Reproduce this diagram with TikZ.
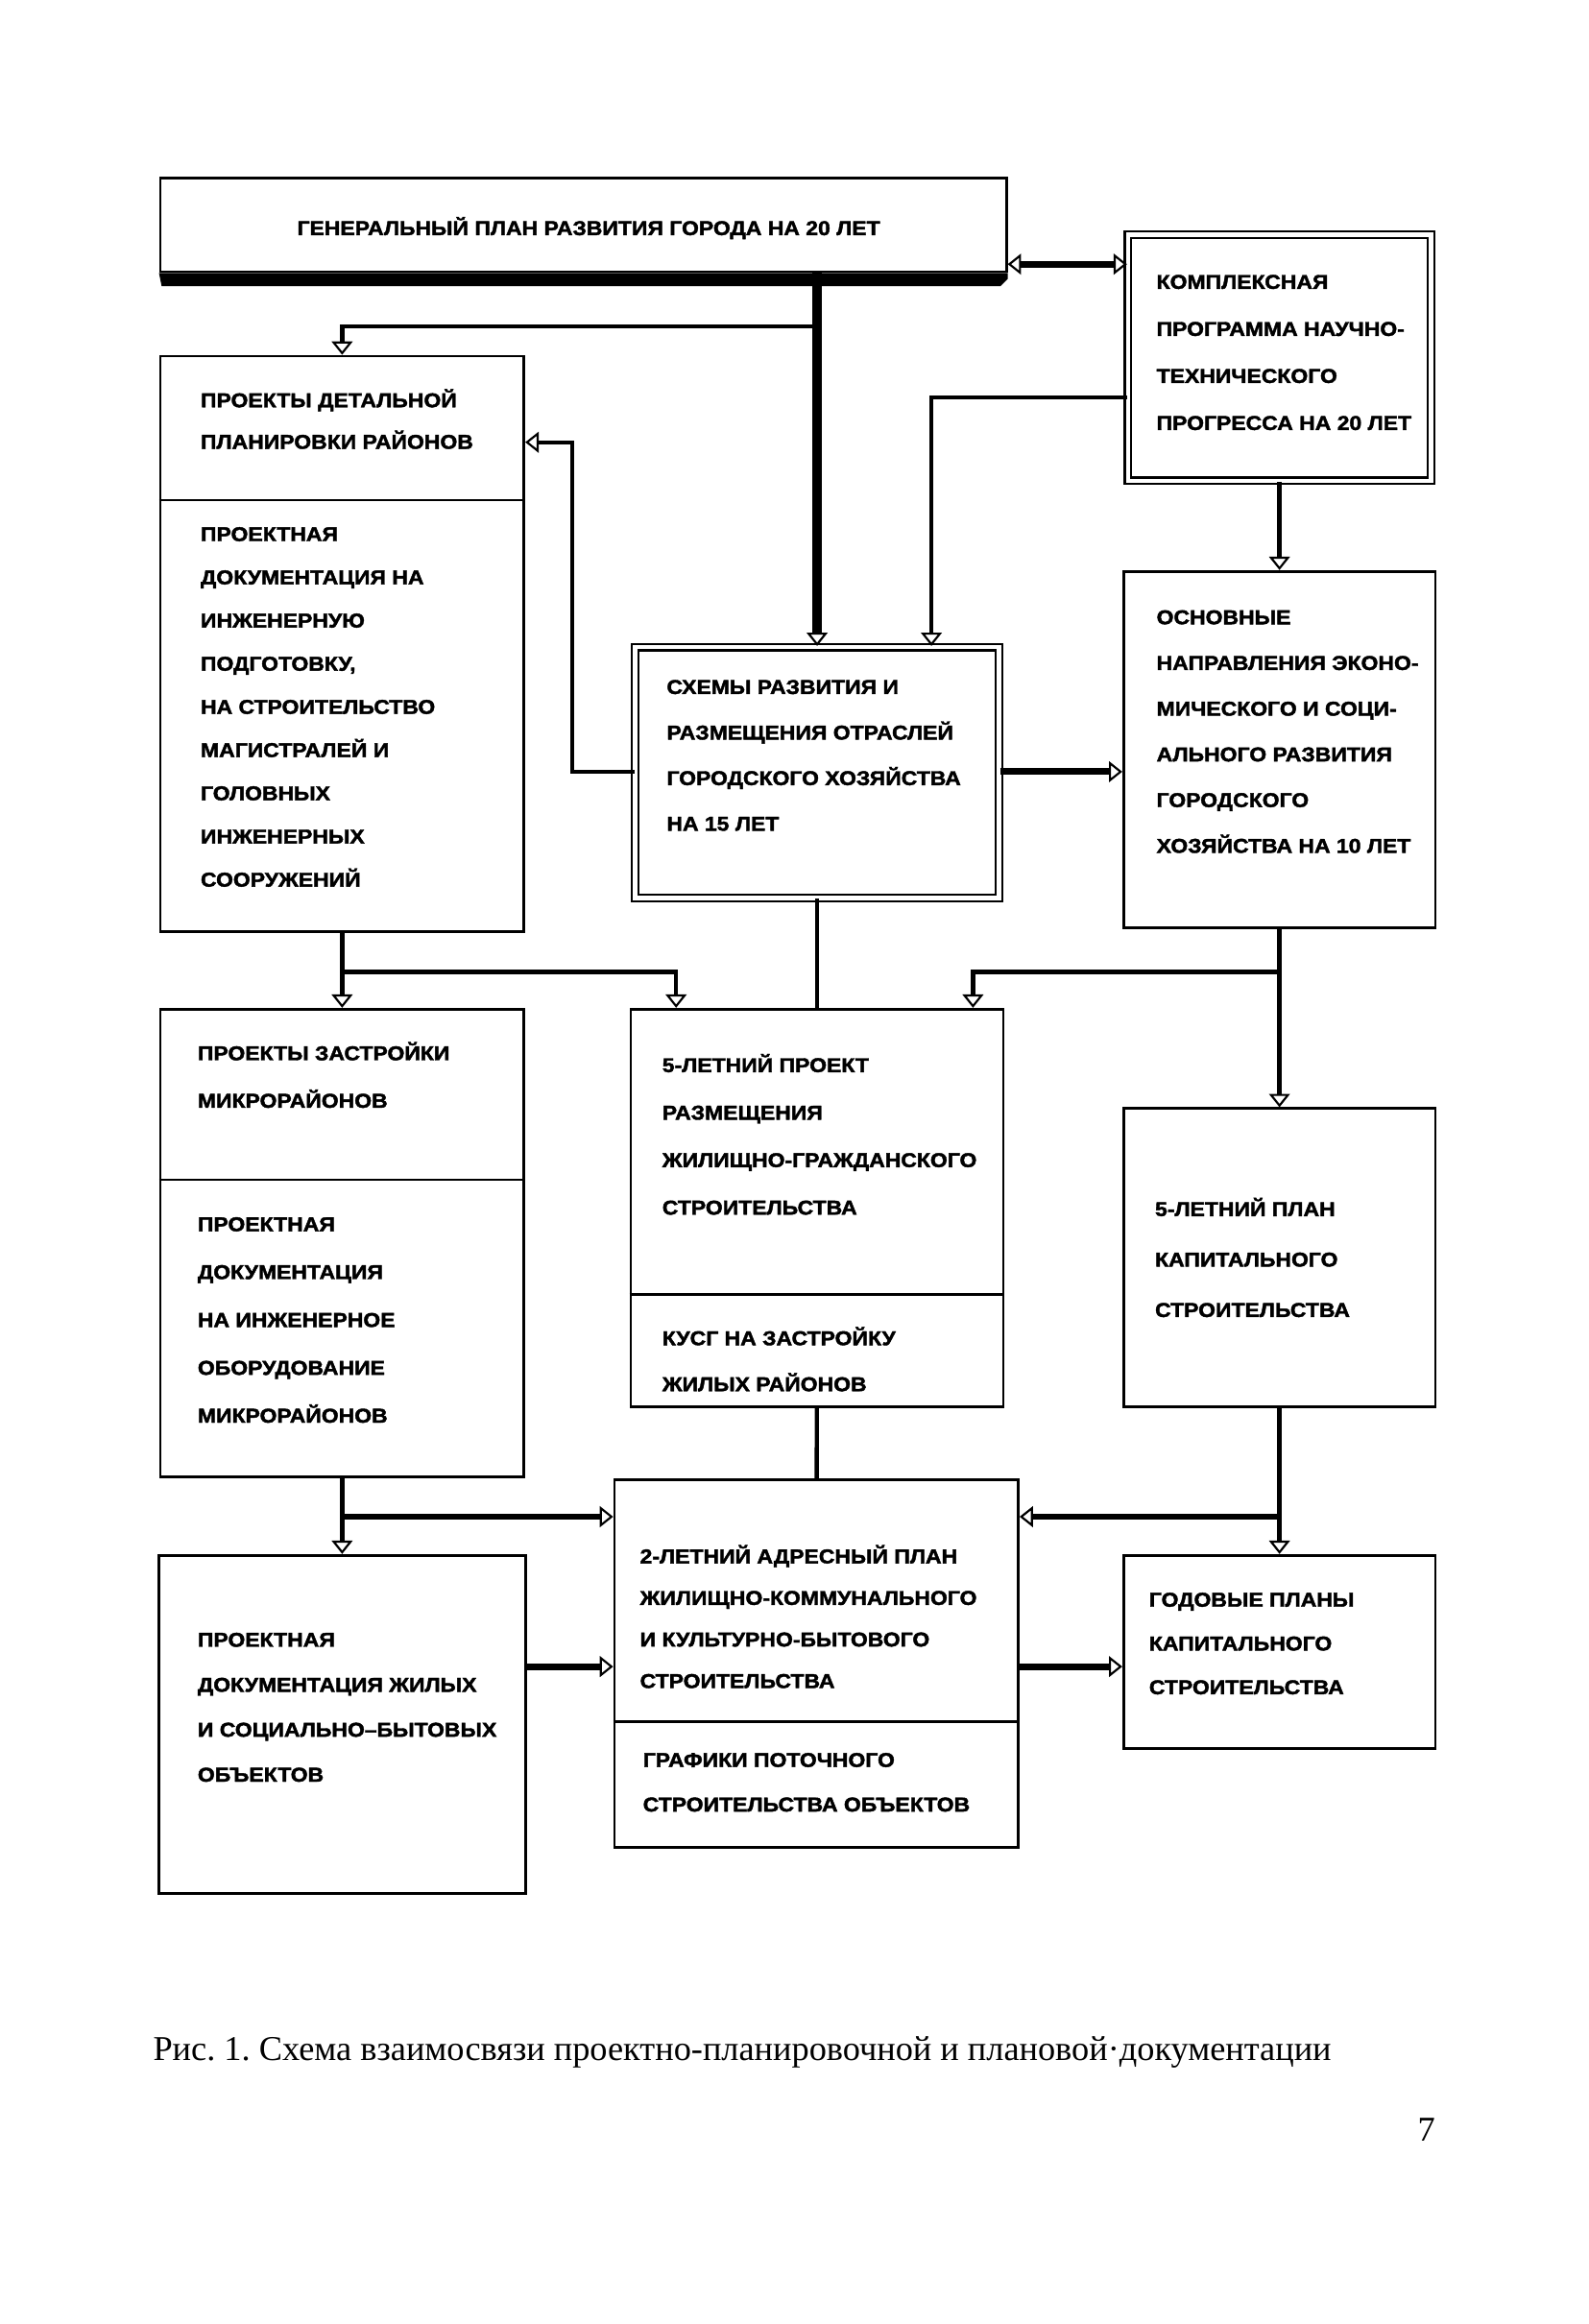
\documentclass[tikz,border=0pt]{standalone}
\usepackage{fontspec}
\setmainfont{Liberation Serif}
\newfontfamily\boxfont{Liberation Sans}[FakeStretch=1.1,FakeBold=2]
\usetikzlibrary{arrows.meta}
\frenchspacing

\begin{document}
\begin{tikzpicture}[x=1pt,y=-1pt,
	>={Triangle[open,width=14pt,length=9pt,line width=1.4pt]},
	box/.style={draw,line width=1.8pt,inner sep=0pt},
	dbox/.style={draw,double,double distance=3pt,line width=1.4pt,inner sep=0pt},
	div/.style={line width=1.8pt},
	txt/.style={font=\boxfont\bfseries\fontsize{13.5}{#1}\selectfont,align=left,anchor=north west,inner sep=0pt},
	txt/.default=30,
	lnk/.style={line width=2.8pt},
	fat/.style={line width=4.5pt},
	main/.style={line width=6pt}]
   \useasboundingbox (0,0) rectangle (1070,1566);
   % boxes
   \node[box,minimum width=570,minimum height=63] (gen) at (393,151.5) {};
   \fill (gen.south west) -- (gen.south east) -- ++(0,4) -- ++(-5,5) -- ++(-565,0) -- cycle;
   \node[dbox,minimum width=204,minimum height=166] (kom) at (862,241) {};
   \node[box,minimum width=245,minimum height=388] (pdp) at (230.5,434) {};
   \node[dbox,minimum width=245,minimum height=169] (sch) at (550.5,520.5) {};
   \node[box,minimum width=210,minimum height=240] (osn) at (862,505) {};
   \node[box,minimum width=245,minimum height=315] (pzm) at (230.5,837.5) {};
   \node[box,minimum width=251,minimum height=268] (p5) at (550.5,814) {};
   \node[box,minimum width=210,minimum height=201] (pk5) at (862,847.5) {};
   \node[box,minimum width=247,minimum height=228] (pdj) at (230.5,1162) {};
   \node[box,minimum width=272,minimum height=248] (a2) at (550,1121) {};
   \node[box,minimum width=210,minimum height=130] (god) at (862,1113) {};
   \draw[div] (pdp.west |- 0,337) -- (pdp.east |- 0,337);
   \draw[div] (pzm.west |- 0,795) -- (pzm.east |- 0,795);
   \draw[div] (p5.west |- 0,872) -- (p5.east |- 0,872);
   \draw[div] (a2.west |- 0,1160) -- (a2.east |- 0,1160);
   % texts
   \node[txt] (genT) at (200,146) {ГЕНЕРАЛЬНЫЙ ПЛАН РАЗВИТИЯ ГОРОДА НА 20 ЛЕТ};
   \node[txt=31.7] (komT) at (779,185) {КОМПЛЕКСНАЯ\\ПРОГРАММА НАУЧНО-\\ТЕХНИЧЕСКОГО\\ПРОГРЕССА НА 20 ЛЕТ};
   \node[txt=28] (pdpA) at (135,262) {ПРОЕКТЫ ДЕТАЛЬНОЙ\\ПЛАНИРОВКИ РАЙОНОВ};
   \node[txt=29.1] (pdpB) at (135,355) {ПРОЕКТНАЯ\\ДОКУМЕНТАЦИЯ НА\\ИНЖЕНЕРНУЮ\\ПОДГОТОВКУ,\\НА СТРОИТЕЛЬСТВО\\МАГИСТРАЛЕЙ И\\ГОЛОВНЫХ\\ИНЖЕНЕРНЫХ\\СООРУЖЕНИЙ};
   \node[txt=30.7] (schT) at (449,458) {СХЕМЫ РАЗВИТИЯ И\\РАЗМЕЩЕНИЯ ОТРАСЛЕЙ\\ГОРОДСКОГО ХОЗЯЙСТВА\\НА 15 ЛЕТ};
   \node[txt=30.8] (osnT) at (779,411) {ОСНОВНЫЕ\\НАПРАВЛЕНИЯ ЭКОНО-\\МИЧЕСКОГО И СОЦИ-\\АЛЬНОГО РАЗВИТИЯ\\ГОРОДСКОГО\\ХОЗЯЙСТВА НА 10 ЛЕТ};
   \node[txt=32] (pzmA) at (133,702) {ПРОЕКТЫ ЗАСТРОЙКИ\\МИКРОРАЙОНОВ};
   \node[txt=32.25] (pzmB) at (133,820) {ПРОЕКТНАЯ\\ДОКУМЕНТАЦИЯ\\НА ИНЖЕНЕРНОЕ\\ОБОРУДОВАНИЕ\\МИКРОРАЙОНОВ};
   \node[txt=32] (p5A) at (446,710) {5-ЛЕТНИЙ ПРОЕКТ\\РАЗМЕЩЕНИЯ\\ЖИЛИЩНО-ГРАЖДАНСКОГО\\СТРОИТЕЛЬСТВА};
   \node[txt=31] (p5B) at (446,894) {КУСГ НА ЗАСТРОЙКУ\\ЖИЛЫХ РАЙОНОВ};
   \node[txt=34] (pk5T) at (778,807) {5-ЛЕТНИЙ ПЛАН\\КАПИТАЛЬНОГО\\СТРОИТЕЛЬСТВА};
   \node[txt=30.3] (pdjT) at (133,1100) {ПРОЕКТНАЯ\\ДОКУМЕНТАЦИЯ ЖИЛЫХ\\И СОЦИАЛЬНО–БЫТОВЫХ\\ОБЪЕКТОВ};
   \node[txt=28] (a2A) at (431,1041) {2-ЛЕТНИЙ АДРЕСНЫЙ ПЛАН\\ЖИЛИЩНО-КОММУНАЛЬНОГО\\И КУЛЬТУРНО-БЫТОВОГО\\СТРОИТЕЛЬСТВА};
   \node[txt=30] (a2B) at (433,1181) {ГРАФИКИ ПОТОЧНОГО\\СТРОИТЕЛЬСТВА ОБЪЕКТОВ};
   \node[txt=29.5] (godT) at (774,1073) {ГОДОВЫЕ ПЛАНЫ\\КАПИТАЛЬНОГО\\СТРОИТЕЛЬСТВА};
   \node[anchor=west,inner sep=0pt,font=\fontsize{23.5}{28}\selectfont] (cap) at (103,1383) {Рис. 1. Схема взаимосвязи проектно-планировочной и плановой·документации};
   \node[inner sep=0pt,font=\fontsize{23.5}{28}\selectfont] (pg) at (961,1435) {7};
   % links
   \draw[fat,<->] (gen.east |- 0,178) -- (kom.west |- 0,178);
   \draw[main,->] (gen.south -| sch.north) -- (sch.north);
   \draw[lnk,->] (sch.north |- 0,220) -| (pdp.north);
   \draw[lnk,->] (kom.west |- 0,268) -| ([xshift=77]sch.north);
   \draw[lnk,->] (sch.west |- 0,520) -- ++(-42,0) |- (pdp.east |- 0,298);
   \draw[fat,->] (sch.east |- 0,520) -- (osn.west |- 0,520);
   \draw[lnk,->] (pdp.south |- 0,655) -| ([xshift=-95]p5.north);
   \draw[lnk,->] (osn.south |- 0,655) -| ([xshift=105]p5.north);
   \draw[fat,->] (pzm.south |- 0,1022) -- (a2.west |- 0,1022);
   \draw[fat,->] (pk5.south |- 0,1022) -- (a2.east |- 0,1022);
   \draw[fat,->] (pdj.east |- 0,1123) -- (a2.west |- 0,1123);
   \draw[fat,->] (a2.east |- 0,1123) -- (god.west |- 0,1123);
    \path[lnk]
    (kom) edge[->] (osn)
    (pdp) edge[->] (pzm)
    (osn) edge[->] (pk5)
    (pzm) edge[->] (pdj)
    (pk5) edge[->] (god)
    (sch) edge (p5)
    (p5) edge (a2);
\end{tikzpicture}
\end{document}
